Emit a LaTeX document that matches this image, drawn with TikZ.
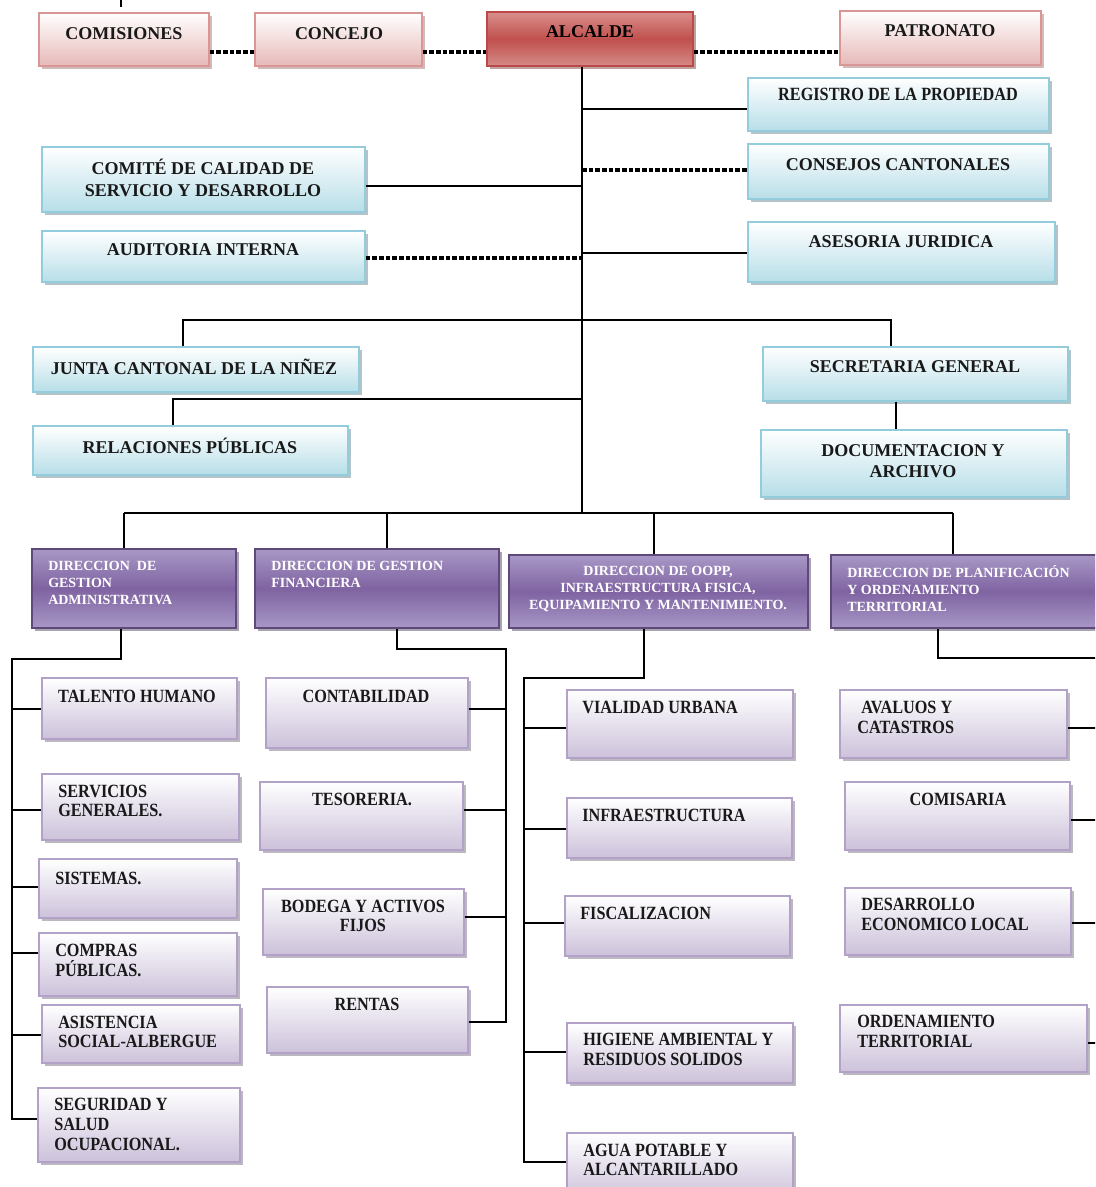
\documentclass[tikz,border=0pt]{standalone}
\usepackage{fontspec}
\usetikzlibrary{fit,shadows}
\newfontfamily\orgfont{Liberation Serif}
\newfontfamily\orgcond{Liberation Serif}[FakeStretch=0.87]
\definecolor{pinkB}{HTML}{D99694}
\definecolor{pinkF}{HTML}{E6B9B8}
\definecolor{blueB}{HTML}{93CDDD}
\definecolor{blueF}{HTML}{B7DEE8}
\definecolor{alcT}{HTML}{D98F8C}
\definecolor{alcM}{HTML}{C0504D}
\definecolor{alcBt}{HTML}{D58A87}
\definecolor{alcB}{HTML}{B94A47}
\definecolor{dirL}{HTML}{A898C6}
\definecolor{dirM}{HTML}{7F63A1}
\definecolor{dirB}{HTML}{5F497A}
\definecolor{subF}{HTML}{CCC1DA}
\definecolor{subB}{HTML}{B3A2C7}
\tikzset{
  boxbase/.style={inner sep=0pt, line width=1pt,
    drop shadow={shadow xshift=2.5pt, shadow yshift=-2.5pt, fill=#1, opacity=0.45}},
  pinkbox/.style={boxbase=pinkB!70!black, draw=pinkB, top color=white, bottom color=pinkF},
  alcbox/.style={boxbase=alcM!60!black, draw=alcB, top color=alcT, bottom color=alcBt, middle color=alcM},
  bluebox/.style={boxbase=blueB!60!black, draw=blueB, top color=white, bottom color=blueF},
  dirbox/.style={boxbase=dirB!70!black, draw=dirB, top color=dirL, bottom color=dirL, middle color=dirM},
  subbox/.style={boxbase=subB!60!black, draw=subB, top color=white, bottom color=subF},
  txt/.style={inner sep=0pt, font=\orgfont\bfseries\fontsize{13.5}{16.5}\selectfont, text=black!90, align=center},
  ctxt/.style={inner sep=0pt, font=\orgcond\bfseries\fontsize{14}{14.5}\selectfont, text=black!90, align=left},
  dtxt/.style={inner sep=0pt, font=\orgfont\bfseries\fontsize{10.5}{12.75}\selectfont, text=white, align=left},
  link/.style={line width=1.1pt, black},
  dlink/.style={line width=2.6pt, black, dash pattern=on 3.5pt off 1.5pt},
}
\begin{document}
\begin{tikzpicture}[x=0.75pt, y=-0.75pt]
\useasboundingbox (0,0) rectangle (1095,1187);
\clip (0,0) rectangle (1095,1187);
\fill[white] (0,0) rectangle (1095,1187);

% ---------- boxes ----------
\node[pinkbox, fit={(39,13) (209,66)}] (comisiones) {};
\node[pinkbox, fit={(255,13) (422,66)}] (concejo) {};
\node[alcbox, fit={(487,12) (693,66)}] (alcalde) {};
\node[pinkbox, fit={(840,11) (1041,65)}] (patronato) {};
\node[bluebox, fit={(748,78) (1049,131)}] (registro) {};
\node[bluebox, fit={(748,144) (1049,199)}] (consejos) {};
\node[bluebox, fit={(42,147) (365,212)}] (comite) {};
\node[bluebox, fit={(42,231) (365,282)}] (auditoria) {};
\node[bluebox, fit={(748,222) (1055,282)}] (asesoria) {};
\node[bluebox, fit={(33,347) (359,392)}] (junta) {};
\node[bluebox, fit={(763,347) (1068,401)}] (secretaria) {};
\node[bluebox, fit={(761,430) (1067,497)}] (docu) {};
\node[bluebox, fit={(33,426) (348,475)}] (relaciones) {};

\node[dirbox, fit={(32,549) (236,628)}] (dadmin) {};
\node[dirbox, fit={(255,549) (499,628)}] (dfin) {};
\node[dirbox, fit={(509,555) (808,628)}] (doopp) {};
\node[dirbox, fit={(831,555) (1110,628)}] (dplan) {};

\node[subbox, fit={(42,678) (237,739)}] (talento) {};
\node[subbox, fit={(42,774) (239,840)}] (servicios) {};
\node[subbox, fit={(39,859) (237,918)}] (sistemas) {};
\node[subbox, fit={(39,933) (237,996)}] (compras) {};
\node[subbox, fit={(42,1005) (240,1063)}] (asistencia) {};
\node[subbox, fit={(38,1088) (240,1162)}] (seguridad) {};

\node[subbox, fit={(266,678) (468,748)}] (contabilidad) {};
\node[subbox, fit={(260,782) (463,850)}] (tesoreria) {};
\node[subbox, fit={(263,889) (464,955)}] (bodega) {};
\node[subbox, fit={(267,987) (468,1053)}] (rentas) {};

\node[subbox, fit={(567,690) (793,758)}] (vialidad) {};
\node[subbox, fit={(567,798) (792,858)}] (infra) {};
\node[subbox, fit={(565,896) (790,956)}] (fisc) {};
\node[subbox, fit={(567,1023) (793,1083)}] (higiene) {};
\node[subbox, fit={(567,1133) (793,1200)}] (agua) {};

\node[subbox, fit={(840,690) (1067,758)}] (avaluos) {};
\node[subbox, fit={(845,782) (1070,850)}] (comisaria) {};
\node[subbox, fit={(845,888) (1071,955)}] (desarrollo) {};
\node[subbox, fit={(840,1005) (1087,1072)}] (ordenamiento) {};

% ---------- texts ----------
\node[txt] (t-comisiones) at (124,34) {COMISIONES};
\node[txt] (t-concejo) at (339,34) {CONCEJO};
\node[txt, text=black] (t-alcalde) at (590,32) {ALCALDE};
\node[txt] (t-patronato) at (940,31) {PATRONATO};
\node[ctxt] (t-registro) at (898,94) {REGISTRO DE LA PROPIEDAD};
\node[txt] (t-consejos) at (898,165) {CONSEJOS CANTONALES};
\node[txt] (t-comite) at (203,178) {COMITÉ DE CALIDAD DE\\SERVICIO Y DESARROLLO};
\node[txt] (t-auditoria) at (203,250) {AUDITORIA INTERNA};
\node[txt] (t-asesoria) at (901,242) {ASESORIA JURIDICA};
\node[txt] (t-junta) at (194,367) {JUNTA CANTONAL DE LA NIÑEZ};
\node[txt] (t-secretaria) at (915,367) {SECRETARIA GENERAL};
\node[txt, font=\orgfont\bfseries\fontsize{13.5}{15.75}\selectfont] (t-docu) at (913,461) {DOCUMENTACION Y\\ARCHIVO};
\node[txt] (t-relaciones) at (190,446) {RELACIONES PÚBLICAS};

\node[dtxt, anchor=west] (t-dadmin) at (48,583) {DIRECCION\ \ DE\\GESTION\\ADMINISTRATIVA};
\node[dtxt, anchor=west] (t-dfin) at (271,574.5) {DIRECCION DE GESTION\\FINANCIERA};
\node[dtxt, align=center] (t-doopp) at (658,589) {DIRECCION DE OOPP,\\INFRAESTRUCTURA FISICA,\\EQUIPAMIENTO Y MANTENIMIENTO.};
\node[dtxt, anchor=west] (t-dplan) at (847,588.5) {DIRECCION DE PLANIFICACIÓN\\Y ORDENAMIENTO\\TERRITORIAL};

\node[ctxt] (t-talento) at (137,696) {TALENTO HUMANO};
\node[ctxt, anchor=west] (t-servicios) at (58,801) {SERVICIOS\\GENERALES.};
\node[ctxt, anchor=west] (t-sistemas) at (55,878) {SISTEMAS.};
\node[ctxt, anchor=west] (t-compras) at (55,960.5) {COMPRAS\\PÚBLICAS.};
\node[ctxt, anchor=west] (t-asistencia) at (58,1032) {ASISTENCIA\\SOCIAL-ALBERGUE};
\node[ctxt, anchor=west, font=\orgcond\bfseries\fontsize{14}{15}\selectfont] (t-seguridad) at (54,1124) {SEGURIDAD Y\\SALUD\\OCUPACIONAL.};

\node[ctxt] (t-contabilidad) at (366,696) {CONTABILIDAD};
\node[ctxt] (t-tesoreria) at (362,799) {TESORERIA.};
\node[ctxt, align=center] (t-bodega) at (363,916) {BODEGA Y ACTIVOS\\FIJOS};
\node[ctxt] (t-rentas) at (367,1004) {RENTAS};

\node[ctxt, anchor=west] (t-vialidad) at (582,707) {VIALIDAD URBANA};
\node[ctxt, anchor=west] (t-infra) at (582,815) {INFRAESTRUCTURA};
\node[ctxt, anchor=west] (t-fisc) at (580,913) {FISCALIZACION};
\node[ctxt, anchor=west] (t-higiene) at (583,1049.5) {HIGIENE AMBIENTAL Y\\RESIDUOS SOLIDOS};
\node[ctxt, anchor=west] (t-agua) at (583,1160) {AGUA POTABLE Y\\ALCANTARILLADO};

\node[ctxt, anchor=west] (t-avaluos) at (857,717.5) {\hspace*{3pt}AVALUOS Y\\CATASTROS};
\node[ctxt] (t-comisaria) at (958,799) {COMISARIA};
\node[ctxt, anchor=west] (t-desarrollo) at (861,914.5) {DESARROLLO\\ECONOMICO LOCAL};
\node[ctxt, anchor=west] (t-ordenamiento) at (857,1031.5) {ORDENAMIENTO\\TERRITORIAL};

% ---------- connectors ----------
\coordinate (tickT) at (121,-3);
\coordinate (tickB) at (121,7);
\draw[line width=0.8pt] (tickT) -- (tickB);

\coordinate (dashrow) at (0,52);
\draw[dlink] (comisiones.east |- dashrow) -- (concejo.west |- dashrow);
\draw[dlink] (concejo.east |- dashrow) -- (alcalde.west |- dashrow);
\draw[dlink] (alcalde.east |- dashrow) -- (patronato.west |- dashrow);

\coordinate (spinebot) at (582,513);
\draw[link] (alcalde.south -| spinebot) -- (spinebot);
\draw[link] (spinebot |- 0,109) -- (registro.west |- 0,109);
\draw[dlink] (spinebot |- 0,170) -- (consejos.west |- 0,170);
\draw[link] (comite.east |- 0,186) -- (spinebot |- 0,186);
\draw[dlink] (auditoria.east |- 0,258) -- (spinebot |- 0,258);
\draw[link] (spinebot |- 0,253) -- (asesoria.west |- 0,253);

\coordinate (brL) at (183,320);
\coordinate (brR) at (891,320);
\draw[link] (junta.north -| brL) -- (brL) -- (brR) -- (secretaria.north -| brR);
\coordinate (sdx) at (896,0);
\draw[link] (secretaria.south -| sdx) -- (docu.north -| sdx);
\coordinate (relL) at (173,399);
\draw[link] (spinebot |- relL) -- (relL) -- (relaciones.north -| relL);

\coordinate (busL) at (124,513);
\coordinate (busF) at (387,513);
\coordinate (busO) at (654,513);
\coordinate (busR) at (953,513);
\draw[link] (busL) -- (busR);
\draw[link] (busL) -- (dadmin.north -| busL);
\draw[link] (busF) -- (dfin.north -| busF);
\draw[link] (busO) -- (doopp.north -| busO);
\draw[link] (busR) -- (dplan.north -| busR);

% Administrativa
\coordinate (admA) at (121,659);
\coordinate (admB) at (12,659);
\coordinate (admC) at (12,1119);
\draw[link] (dadmin.south -| admA) -- (admA) -- (admB) -- (admC) -- (seguridad.west |- admC);
\foreach \n/\y in {talento/709, servicios/810, sistemas/887, compras/953, asistencia/1035}
  \draw[link] (admB |- 0,\y) -- (\n.west |- 0,\y);

% Financiera
\coordinate (finA) at (397,649);
\coordinate (finB) at (506,649);
\coordinate (finC) at (506,1022);
\draw[link] (dfin.south -| finA) -- (finA) -- (finB) -- (finC) -- (rentas.east |- finC);
\foreach \n/\y in {contabilidad/709, tesoreria/810, bodega/917}
  \draw[link] (\n.east |- 0,\y) -- (finB |- 0,\y);

% OOPP
\coordinate (oopA) at (644,678);
\coordinate (oopB) at (524,678);
\coordinate (oopC) at (524,1162);
\draw[link] (doopp.south -| oopA) -- (oopA) -- (oopB) -- (oopC) -- (agua.west |- oopC);
\foreach \n/\y in {vialidad/728, infra/829, fisc/923, higiene/1052}
  \draw[link] (oopB |- 0,\y) -- (\n.west |- 0,\y);

% Planificacion
\coordinate (plA) at (938,658);
\coordinate (plB) at (1100,658);
\coordinate (plC) at (1100,1043);
\draw[link] (dplan.south -| plA) -- (plA) -- (plB) -- (plC) -- (ordenamiento.east |- plC);
\foreach \n/\y in {avaluos/728, comisaria/820, desarrollo/923}
  \draw[link] (\n.east |- 0,\y) -- (plB |- 0,\y);
\end{tikzpicture}
\end{document}
